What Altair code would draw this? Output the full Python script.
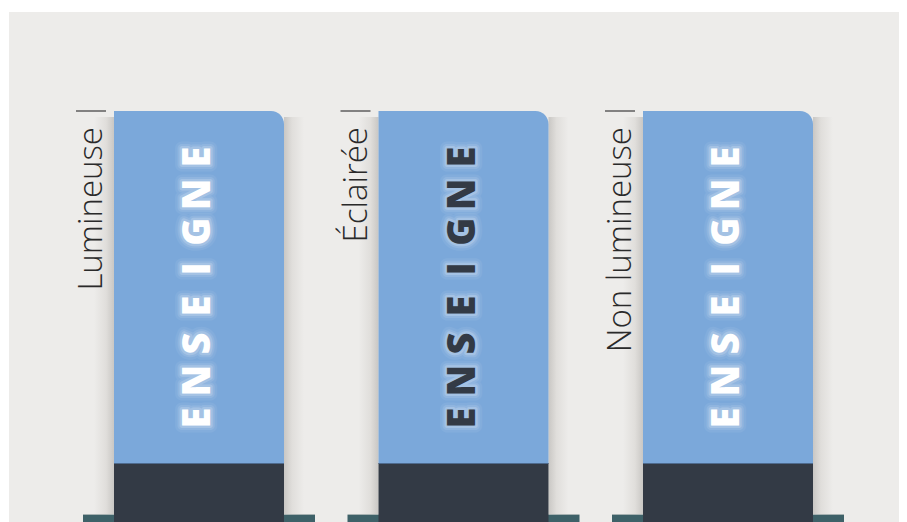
import altair as alt
import pandas as pd

# ---- data -------------------------------------------------------------
categories = ["Lumineuse", "Éclairée", "Non lumineuse"]
letter_colors = ["#FFFFFF", "#333A45", "#FFFFFF"]
sign_word = list("ENSEIGNE")

# ---- layout constants (plot-area pixel units) -------------------------
W, H = 890, 510
PITCH = 264.5      # distance between panel centres
C0 = 190           # first panel centre
HALF = 85          # half width of the sign
TOP = 99           # top of the sign
SPLIT = 451        # blue / dark boundary
BASE_TOP = 503     # top of the teal foot
BASE_HALF = 116
SH = 20            # shadow width
L_TOP = 145        # centre of top letter
L_BOT = 406        # centre of bottom letter

BG = "#EDECEA"
BLUE = "#7BA8DA"
DARK = "#333A45"
TEAL = "#3E6168"

panels = pd.DataFrame({"i": list(range(len(categories))), "cat": categories, "tc": letter_colors})

letters = pd.DataFrame(
    [{"i": i, "j": j, "ch": ch, "tc": letter_colors[i]}
     for i in range(len(categories))
     for j, ch in enumerate(sign_word)]
)

xs = alt.Scale(domain=[0, W])
ys = alt.Scale(domain=[0, H], reverse=True)


def X(f):
    return alt.X(f + ":Q", scale=xs, axis=None)


def Y(f):
    return alt.Y(f + ":Q", scale=ys, axis=None)


base = alt.Chart(panels).transform_calculate(
    c=f"{C0} + datum.i * {PITCH}"
).transform_calculate(
    l=f"datum.c - {HALF}", r=f"datum.c + {HALF}"
)

shadow_l = base.transform_calculate(
    a=f"datum.l - {SH}", b="datum.l", t=f"{TOP + 6}", btm=f"{BASE_TOP}"
).mark_rect(
    color=alt.LinearGradient(
        gradient="linear", x1=0, x2=1, y1=0, y2=0,
        stops=[alt.GradientStop(offset=0, color=BG),
               alt.GradientStop(offset=0.6, color="#E0DEDB"),
               alt.GradientStop(offset=1, color="#C9C7C4")],
    )
).encode(x=X("a"), x2="b", y=Y("t"), y2="btm")

shadow_r = base.transform_calculate(
    a="datum.r", b=f"datum.r + {SH}", t=f"{TOP + 6}", btm=f"{BASE_TOP}"
).mark_rect(
    color=alt.LinearGradient(
        gradient="linear", x1=0, x2=1, y1=0, y2=0,
        stops=[alt.GradientStop(offset=0, color="#C9C7C4"),
               alt.GradientStop(offset=0.4, color="#E0DEDB"),
               alt.GradientStop(offset=1, color=BG)],
    )
).encode(x=X("a"), x2="b", y=Y("t"), y2="btm")

teal_line = base.transform_calculate(
    a=f"datum.c - {BASE_HALF}", b=f"datum.c + {BASE_HALF}",
    t=f"{BASE_TOP - 1}", btm=f"{BASE_TOP}"
).mark_rect(color="#A7B2B2").encode(x=X("a"), x2="b", y=Y("t"), y2="btm")

teal = base.transform_calculate(
    a=f"datum.c - {BASE_HALF}", b=f"datum.c + {BASE_HALF}",
    t=f"{BASE_TOP}", btm=f"{H}"
).mark_rect(color=TEAL).encode(x=X("a"), x2="b", y=Y("t"), y2="btm")

blue = base.transform_calculate(
    t=f"{TOP}", btm=f"{SPLIT}"
).mark_rect(color=BLUE, cornerRadiusTopRight=13).encode(
    x=X("l"), x2="r", y=Y("t"), y2="btm"
)

dark = base.transform_calculate(
    t=f"{SPLIT}", btm=f"{H}"
).mark_rect(color=DARK).encode(x=X("l"), x2="r", y=Y("t"), y2="btm")

split_line = base.transform_calculate(
    t=f"{SPLIT}", btm=f"{SPLIT + 1}"
).mark_rect(color="#4F6B8E").encode(x=X("l"), x2="r", y=Y("t"), y2="btm")

tick = base.transform_calculate(
    a="datum.l - 38", b="datum.l - 8", t=f"{TOP}"
).mark_rule(color="#3A3A3A", strokeWidth=1.2).encode(x=X("a"), x2="b", y=Y("t"))

labels = base.transform_calculate(
    a="datum.l - 12", t=f"{TOP + 16}"
).mark_text(
    angle=270, align="right", baseline="alphabetic",
    font="Open Sans", fontSize=33, fontWeight=300, color="#2A2A2A"
).encode(x=X("a"), y=Y("t"), text="cat:N")

lbase = alt.Chart(letters).transform_calculate(
    c=f"{C0} + datum.i * {PITCH}",
    yy=f"{L_BOT} - datum.j * {(L_BOT - L_TOP) / (len(sign_word) - 1)}",
)


def glow(width, op):
    return lbase.mark_text(
        angle=270, align="center", baseline="middle",
        font="Open Sans", fontSize=38, fontWeight=800,
        fill="white", stroke="white", strokeWidth=width,
        strokeJoin="round", opacity=op,
    ).encode(x=X("c"), y=Y("yy"), text="ch:N")


glow1 = glow(14, 0.06)
glow2 = glow(9, 0.10)
glow3 = glow(5, 0.18)

word = lbase.mark_text(
    angle=270, align="center", baseline="middle",
    font="Open Sans", fontSize=38, fontWeight=800,
).encode(
    x=X("c"), y=Y("yy"), text="ch:N",
    color=alt.Color("tc:N", scale=None),
)

chart = alt.layer(
    shadow_l, shadow_r, teal_line, teal, blue, dark, split_line,
    tick, labels, glow1, glow2, glow3, word,
).properties(
    width=W, height=H,
    autosize=alt.AutoSizeParams(type="none"),
    padding={"left": 1, "top": 4, "right": 0, "bottom": 0},
    background="white",
).configure_view(fill=BG, stroke=None)

chart.save("out.html", embed_options={"renderer": "svg", "actions": False})
